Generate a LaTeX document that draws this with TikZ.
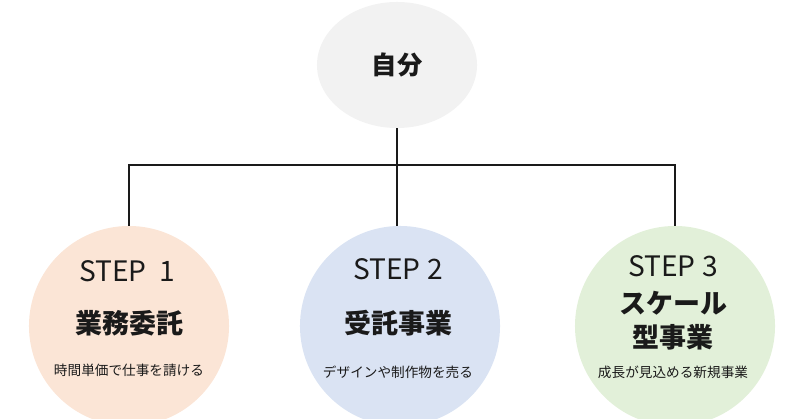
\documentclass[tikz,border=0pt]{standalone}
\usepackage{fontspec}
\newfontfamily\cjk{Noto Sans CJK JP}
\usetikzlibrary{shapes.geometric, positioning}

\definecolor{selfgray}{HTML}{F2F2F2}
\definecolor{peach}{HTML}{FBE5D6}
\definecolor{paleblue}{HTML}{DAE3F3}
\definecolor{palegreen}{HTML}{E2F0D9}
\definecolor{ink}{HTML}{1A1A1A}

\begin{document}
\begin{tikzpicture}[x=0.025cm, y=-0.025cm,
          stepcircle/.style={circle, minimum size=5cm, inner sep=0pt},
          steplabel/.style={font=\cjk\fontsize{20}{22}\selectfont, text=ink},
          title/.style={font=\cjk\bfseries\fontsize{19.2}{24}\selectfont, text=ink,
                        align=center},
          note/.style={font=\cjk\fontsize{9.7}{11}\selectfont, text=ink},
          link/.style={line width=1.3pt, draw=ink},
        ]
          \useasboundingbox (0,0) rectangle (800,419);

          \node[ellipse, fill=selfgray, minimum width=4cm, minimum height=3.15cm,
                font=\cjk\bfseries\fontsize{18}{20}\selectfont, text=ink] (self) at (397,65) {自分};

          \node[stepcircle, fill=peach]     (s1) at (129,326) {};
          \node[stepcircle, fill=paleblue]  (s2) at (400,326) {};
          \node[stepcircle, fill=palegreen] (s3) at (675,326) {};

          \coordinate (hub) at (397,165);

          \draw[link] (self.south) -- (hub) -- (hub |- s2.north);
          \draw[link] (s1.north) -- (s1.north |- hub) -- (s3.north |- hub) -- (s3.north);

          % step 1
          \node[steplabel] (step1) at (127,271) {STEP\ \ 1};
          \node[title]     (name1) at (129,323) {業務委託};
          \node[note]      (note1) at (129,370) {時間単価で仕事を請ける};

          % step 2
          \node[steplabel] (step2) at (398,269) {STEP 2};
          \node[title]     (name2) at (398,323) {受託事業};
          \node[note]      (note2) at (398,372) {デザインや制作物を売る};

          % step 3
          \node[steplabel] (step3) at (673,266) {STEP 3};
          \node[title]     (name3) at (673,321) {スケール\\型事業};
          \node[note]      (note3) at (673,372) {成長が見込める新規事業};
        \end{tikzpicture}
\end{document}
